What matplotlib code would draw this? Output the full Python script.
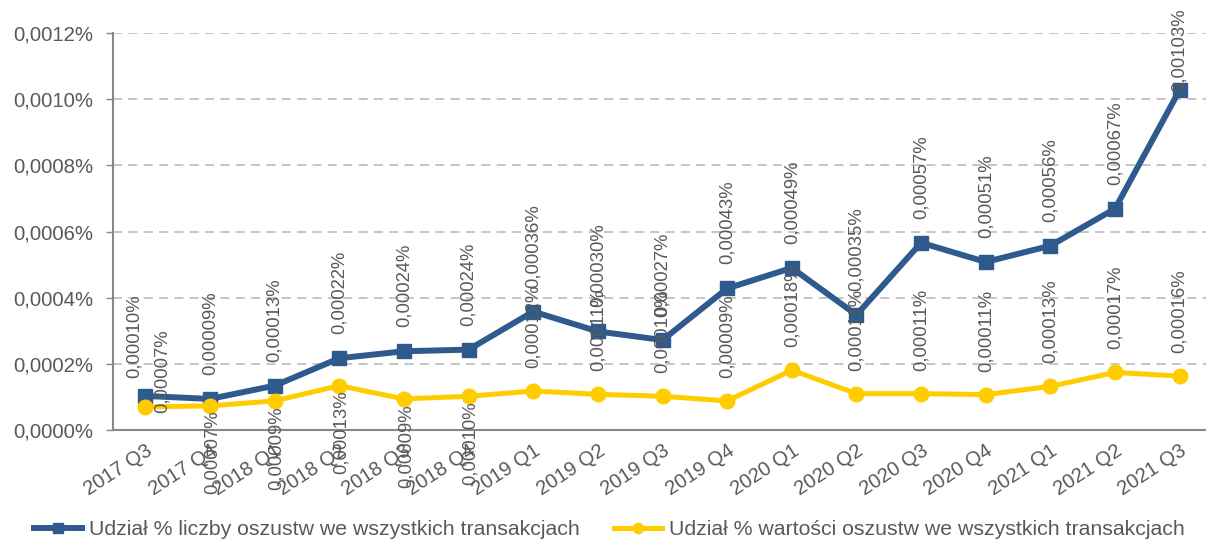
import matplotlib
matplotlib.use("Agg")
import matplotlib.pyplot as plt
from matplotlib.ticker import FuncFormatter, MultipleLocator

plt.rcParams['font.family'] = ['Liberation Sans', 'DejaVu Sans']

quarters = ['2017 Q3', '2017 Q4', '2018 Q1', '2018 Q2', '2018 Q3', '2018 Q4',
            '2019 Q1', '2019 Q2', '2019 Q3', '2019 Q4', '2020 Q1', '2020 Q2',
            '2020 Q3', '2020 Q4', '2021 Q1', '2021 Q2', '2021 Q3']

# % of fraud transactions (count), in percent
count_share = [0.000103, 0.000094, 0.000134, 0.000217, 0.000238, 0.000243,
               0.000358, 0.000298, 0.000272, 0.000428, 0.000490, 0.000348,
               0.000566, 0.000508, 0.000557, 0.000669, 0.001028]
# % of fraud transactions (value), in percent
value_share = [0.000070, 0.000073, 0.000088, 0.000134, 0.000094, 0.000102,
               0.000118, 0.000108, 0.000102, 0.000088, 0.000181, 0.000110,
               0.000110, 0.000107, 0.000132, 0.000174, 0.000163]

label_count = 'Udział % liczby oszustw we wszystkich transakcjach'
label_value = 'Udział % wartości oszustw we wszystkich transakcjach'

blue = '#2E5A8E'
yellow = '#FFCC00'
text_c = '#595959'

fig = plt.figure(figsize=(12.06, 5.42), dpi=100)
ax = fig.add_axes([0.0937, 0.2066, 0.9113, 0.7325])

x = list(range(len(quarters)))
ax.plot(x, count_share, color=blue, lw=4.3, marker='s', ms=10.5,
        label=label_count, zorder=3)
ax.plot(x, value_share, color=yellow, lw=3.6, marker='o', ms=10.5,
        label=label_value, zorder=3)

ax.set_xlim(-0.5, len(quarters) - 0.5)
ax.set_ylim(0, 0.0012)
ax.yaxis.set_major_locator(MultipleLocator(0.0002))
ax.yaxis.set_major_formatter(FuncFormatter(lambda v, p: f'{v:.4f}%'.replace('.', ',')))
ax.set_xticks(x)
ax.set_xticklabels(quarters, rotation=33, ha='right', rotation_mode='anchor')
ax.tick_params(axis='x', length=0, pad=8, labelsize=14.5, colors=text_c)
ax.tick_params(axis='y', length=5, width=1, color='#888888', labelsize=14.7,
               colors=text_c, pad=9)
ax.yaxis.grid(True, color='#C0C0C0', ls=(0, (5, 3.5)), lw=1.3)
ax.set_axisbelow(True)
for s in ['top', 'right']:
    ax.spines[s].set_visible(False)
for s in ['left', 'bottom']:
    ax.spines[s].set_color('#888888')
    ax.spines[s].set_linewidth(1.5)

def fmt(v):
    return f'{v:.5f}%'.replace('.', ',')

texts = []
for i, v in enumerate(count_share):
    dx, dy = (-11, 18) if i == 0 else (0, 24)
    t = ax.annotate(fmt(v), (i, v), xytext=(dx, dy), textcoords='offset pixels',
                    rotation=90, ha='center', va='bottom', fontsize=13.3, color=text_c)
    texts.append(t)

for i, v in enumerate(value_share):
    if i == 0:
        t = ax.annotate(fmt(v), (i, v), xytext=(17, 36), textcoords='offset pixels',
                        rotation=90, ha='center', va='center', fontsize=13.3, color=text_c)
    elif i <= 5:
        t = ax.annotate(fmt(v), (i, v), xytext=(2, -5), textcoords='offset pixels',
                        rotation=90, ha='center', va='top', fontsize=13.3, color=text_c)
    else:
        t = ax.annotate(fmt(v), (i, v), xytext=(0, 23), textcoords='offset pixels',
                        rotation=90, ha='center', va='bottom', fontsize=13.3, color=text_c)

# keep labels inside the figure (like Excel does)
fig.canvas.draw()
H = fig.bbox.height
for t in texts:
    bb = t.get_window_extent()
    if bb.y1 > H - 8:
        ox, oy = t.xyann
        t.xyann = (ox, oy - (bb.y1 - (H - 8)))

fig.legend(loc='lower center', bbox_to_anchor=(0.505, -0.03), ncol=2, frameon=False,
           fontsize=15.3, labelcolor=text_c, handlelength=2.3, handletextpad=0.3,
           columnspacing=1.6, markerscale=0.7)

fig.savefig('out.png', dpi=100)
